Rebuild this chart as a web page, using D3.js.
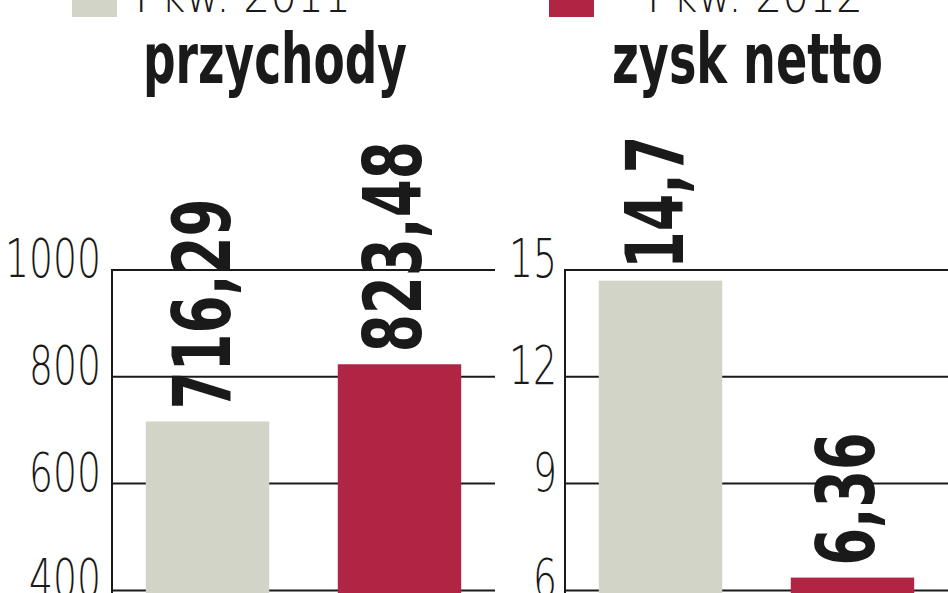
<!DOCTYPE html>
<html><head><meta charset="utf-8">
<script src="https://cdn.jsdelivr.net/npm/d3@7"></script>
<style>
html,body{margin:0;padding:0;background:#fff;overflow:hidden}
svg{display:block}
</style></head>
<body>
<svg id="chart" width="948" height="593"></svg>
<script>
const categories = ["I kw. 2011", "I kw. 2012"];
const panelTitles = ["przychody", "zysk netto"];
const revenue = [716.29, 823.48];
const netProfit = [14.7, 6.36];
const revenueTicks = [400, 600, 800, 1000];
const profitTicks = [6, 9, 12, 15];
const revenueMax = 1000;
const profitMax = 15;
const colors = ["#d3d4c8", "#b02444"];

const svg = d3.select("#chart");
const W = 948, H = 593;
const FONT = "'Liberation Sans Narrow','DejaVu Sans Condensed','Arial Narrow',sans-serif";
const LIGHT = "'DejaVu Sans','Liberation Sans',sans-serif";

const color = d3.scaleOrdinal().domain(categories).range(colors);

// legend
const legendX = [72, 549];
const legendTextX = [135, 647];
categories.forEach((c, i) => {
  svg.append("rect").attr("x", legendX[i]).attr("y", -30).attr("width", 45).attr("height", 47)
    .attr("fill", color(c));
  svg.append("text").attr("x", legendTextX[i]).attr("y", 12)
    .attr("font-family", LIGHT).attr("font-weight", 200).attr("font-size", 50).attr("fill", "#1a1a1a")
    .attr("textLength", 216).attr("lengthAdjust", "spacingAndGlyphs")
    .text(c);
});

// panels
const panels = [
  {title: panelTitles[0], values: revenue, ticks: revenueTicks, max: revenueMax, x0: 112, x1: 495, titleX: 143, titleLen: 264, tickX: 101},
  {title: panelTitles[1], values: netProfit, ticks: profitTicks, max: profitMax, x0: 565, x1: 948, titleX: 612, titleLen: 271, tickX: 557}
];

const fmt = v => String(v).replace(".", ",");

panels.forEach(p => {
  const g = svg.append("g");
  const y = d3.scaleLinear().domain([0, p.max]).range([804, 270]);
  const x = d3.scaleBand().domain(categories).range([p.x0, p.x1]).paddingInner(0.357).paddingOuter(0.176);

  // title
  g.append("text").attr("x", p.titleX).attr("y", 83)
    .attr("font-family", FONT).attr("font-weight", "bold").attr("font-size", 70).attr("fill", "#1a1a1a")
    .attr("textLength", p.titleLen).attr("lengthAdjust", "spacingAndGlyphs")
    .text(p.title);

  // gridlines
  g.selectAll("line.grid").data(p.ticks).join("line").attr("class", "grid")
    .attr("x1", p.x0).attr("x2", p.x1)
    .attr("y1", d => y(d)).attr("y2", d => y(d))
    .attr("stroke", "#1a1a1a").attr("stroke-width", 2);

  // tick labels
  g.selectAll("text.tick").data(p.ticks).join("text").attr("class", "tick")
    .attr("x", p.tickX).attr("y", d => y(d) + 7)
    .attr("text-anchor", "end")
    .attr("font-family", LIGHT).attr("font-weight", 200).attr("font-size", 54).attr("fill", "#1a1a1a")
    .attr("textLength", d => String(d).length * 24)
    .attr("lengthAdjust", "spacingAndGlyphs")
    .text(d => d);

  // axis line
  g.append("line").attr("x1", p.x0).attr("x2", p.x0).attr("y1", y(p.max) - 1).attr("y2", H)
    .attr("stroke", "#1a1a1a").attr("stroke-width", 2);

  // bars
  g.selectAll("rect.bar").data(p.values).join("rect").attr("class", "bar")
    .attr("x", (d, i) => x(categories[i]))
    .attr("width", x.bandwidth())
    .attr("y", d => y(d))
    .attr("height", d => y(0) - y(d))
    .attr("fill", (d, i) => color(categories[i]));

  // value labels (rotated)
  g.selectAll("text.val").data(p.values).join("text").attr("class", "val")
    .attr("transform", (d, i) => {
      const cx = x(categories[i]) + x.bandwidth() / 2 + 22;
      return `translate(${cx},${y(d) - 12}) rotate(-90)`;
    })
    .attr("font-family", FONT).attr("font-weight", "bold").attr("font-size", 80).attr("fill", "#1a1a1a")
    .attr("textLength", d => fmt(d).length === 6 ? 211 : 133)
    .attr("lengthAdjust", "spacingAndGlyphs")
    .text(d => fmt(d));
});
</script>
</body></html>
